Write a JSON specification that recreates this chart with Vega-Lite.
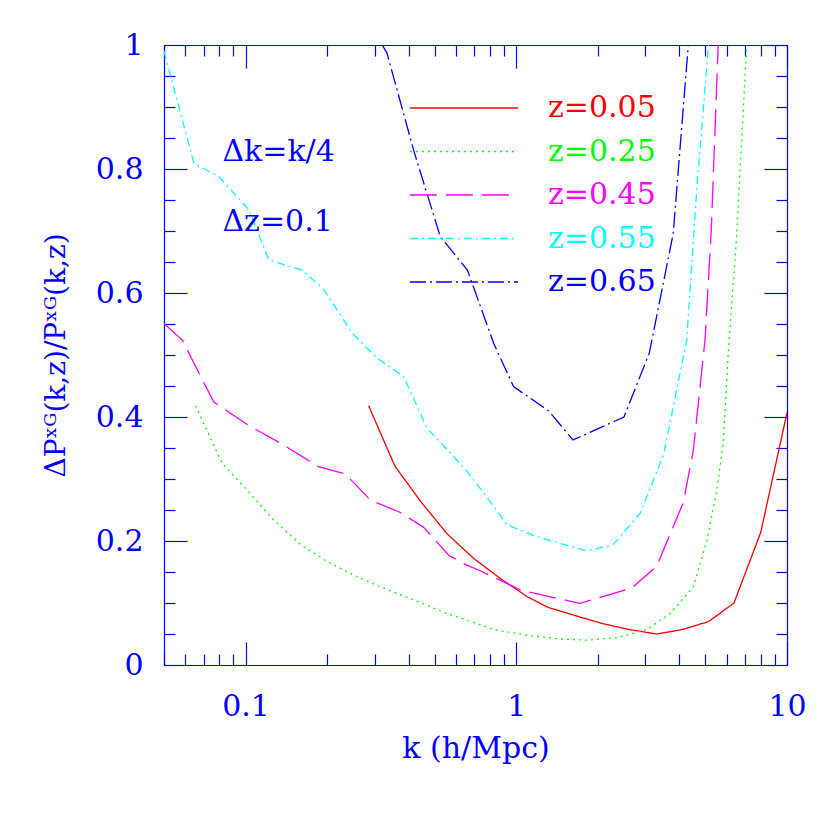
{
  "$schema": "https://vega.github.io/schema/vega-lite/v6.json",
  "width": 623,
  "height": 620,
  "autosize": "none",
  "padding": {"left": 164, "top": 45, "right": 43, "bottom": 165},
  "background": "white",
  "config": {"view": {"stroke": null}, "axis": {"grid": false}},
  "datasets": {
    "curves": [
      {"z": "z=0.05", "k": 0.285, "v": 0.418},
      {"z": "z=0.05", "k": 0.356, "v": 0.321},
      {"z": "z=0.05", "k": 0.445, "v": 0.263},
      {"z": "z=0.05", "k": 0.557, "v": 0.211},
      {"z": "z=0.05", "k": 0.696, "v": 0.172},
      {"z": "z=0.05", "k": 0.87, "v": 0.14},
      {"z": "z=0.05", "k": 1.1, "v": 0.11},
      {"z": "z=0.05", "k": 1.31, "v": 0.093},
      {"z": "z=0.05", "k": 1.7, "v": 0.078},
      {"z": "z=0.05", "k": 2.12, "v": 0.066},
      {"z": "z=0.05", "k": 2.63, "v": 0.057},
      {"z": "z=0.05", "k": 3.3, "v": 0.05},
      {"z": "z=0.05", "k": 4.09, "v": 0.057},
      {"z": "z=0.05", "k": 5.13, "v": 0.07},
      {"z": "z=0.05", "k": 6.37, "v": 0.1},
      {"z": "z=0.05", "k": 8.0, "v": 0.214},
      {"z": "z=0.05", "k": 10.0, "v": 0.407},

      {"z": "z=0.25", "k": 0.0654, "v": 0.418},
      {"z": "z=0.25", "k": 0.082, "v": 0.325},
      {"z": "z=0.25", "k": 0.1015, "v": 0.282},
      {"z": "z=0.25", "k": 0.127, "v": 0.234},
      {"z": "z=0.25", "k": 0.16, "v": 0.194},
      {"z": "z=0.25", "k": 0.2, "v": 0.167},
      {"z": "z=0.25", "k": 0.251, "v": 0.145},
      {"z": "z=0.25", "k": 0.315, "v": 0.126},
      {"z": "z=0.25", "k": 0.418, "v": 0.105},
      {"z": "z=0.25", "k": 0.555, "v": 0.083},
      {"z": "z=0.25", "k": 0.716, "v": 0.067},
      {"z": "z=0.25", "k": 0.825, "v": 0.057},
      {"z": "z=0.25", "k": 1.095, "v": 0.048},
      {"z": "z=0.25", "k": 1.45, "v": 0.042},
      {"z": "z=0.25", "k": 1.82, "v": 0.04},
      {"z": "z=0.25", "k": 2.35, "v": 0.044},
      {"z": "z=0.25", "k": 3.03, "v": 0.057},
      {"z": "z=0.25", "k": 3.7, "v": 0.083},
      {"z": "z=0.25", "k": 4.51, "v": 0.126},
      {"z": "z=0.25", "k": 5.05, "v": 0.2},
      {"z": "z=0.25", "k": 5.5, "v": 0.28},
      {"z": "z=0.25", "k": 5.82, "v": 0.36},
      {"z": "z=0.25", "k": 6.06, "v": 0.5},
      {"z": "z=0.25", "k": 6.5, "v": 0.685},
      {"z": "z=0.25", "k": 7.1, "v": 1.0},

      {"z": "z=0.45", "k": 0.05, "v": 0.551},
      {"z": "z=0.45", "k": 0.0584, "v": 0.524},
      {"z": "z=0.45", "k": 0.0764, "v": 0.424},
      {"z": "z=0.45", "k": 0.103, "v": 0.386},
      {"z": "z=0.45", "k": 0.138, "v": 0.355},
      {"z": "z=0.45", "k": 0.186, "v": 0.32},
      {"z": "z=0.45", "k": 0.234, "v": 0.308},
      {"z": "z=0.45", "k": 0.289, "v": 0.266},
      {"z": "z=0.45", "k": 0.373, "v": 0.246},
      {"z": "z=0.45", "k": 0.455, "v": 0.222},
      {"z": "z=0.45", "k": 0.563, "v": 0.177},
      {"z": "z=0.45", "k": 0.65, "v": 0.162},
      {"z": "z=0.45", "k": 0.736, "v": 0.152},
      {"z": "z=0.45", "k": 1.05, "v": 0.12},
      {"z": "z=0.45", "k": 1.72, "v": 0.0995},
      {"z": "z=0.45", "k": 2.67, "v": 0.124},
      {"z": "z=0.45", "k": 3.3, "v": 0.159},
      {"z": "z=0.45", "k": 4.14, "v": 0.262},
      {"z": "z=0.45", "k": 4.51, "v": 0.347},
      {"z": "z=0.45", "k": 4.98, "v": 0.524},
      {"z": "z=0.45", "k": 5.25, "v": 0.7},
      {"z": "z=0.45", "k": 5.57, "v": 1.0},

      {"z": "z=0.55", "k": 0.05, "v": 0.99},
      {"z": "z=0.55", "k": 0.0645, "v": 0.809},
      {"z": "z=0.55", "k": 0.0796, "v": 0.788},
      {"z": "z=0.55", "k": 0.103, "v": 0.734},
      {"z": "z=0.55", "k": 0.122, "v": 0.653},
      {"z": "z=0.55", "k": 0.162, "v": 0.637},
      {"z": "z=0.55", "k": 0.195, "v": 0.605},
      {"z": "z=0.55", "k": 0.248, "v": 0.535},
      {"z": "z=0.55", "k": 0.306, "v": 0.495},
      {"z": "z=0.55", "k": 0.384, "v": 0.465},
      {"z": "z=0.55", "k": 0.468, "v": 0.382},
      {"z": "z=0.55", "k": 0.571, "v": 0.342},
      {"z": "z=0.55", "k": 0.65, "v": 0.315},
      {"z": "z=0.55", "k": 0.76, "v": 0.277},
      {"z": "z=0.55", "k": 0.924, "v": 0.226},
      {"z": "z=0.55", "k": 1.19, "v": 0.207},
      {"z": "z=0.55", "k": 1.82, "v": 0.184},
      {"z": "z=0.55", "k": 2.28, "v": 0.194},
      {"z": "z=0.55", "k": 2.87, "v": 0.245},
      {"z": "z=0.55", "k": 3.5, "v": 0.339},
      {"z": "z=0.55", "k": 4.26, "v": 0.524},
      {"z": "z=0.55", "k": 4.64, "v": 0.766},
      {"z": "z=0.55", "k": 5.13, "v": 1.0},

      {"z": "z=0.65", "k": 0.32, "v": 1.0},
      {"z": "z=0.65", "k": 0.333, "v": 0.987},
      {"z": "z=0.65", "k": 0.418, "v": 0.83},
      {"z": "z=0.65", "k": 0.524, "v": 0.691},
      {"z": "z=0.65", "k": 0.66, "v": 0.637},
      {"z": "z=0.65", "k": 0.825, "v": 0.519},
      {"z": "z=0.65", "k": 0.977, "v": 0.449},
      {"z": "z=0.65", "k": 1.316, "v": 0.41},
      {"z": "z=0.65", "k": 1.62, "v": 0.363},
      {"z": "z=0.65", "k": 2.5, "v": 0.4},
      {"z": "z=0.65", "k": 3.1, "v": 0.503},
      {"z": "z=0.65", "k": 3.8, "v": 0.696},
      {"z": "z=0.65", "k": 4.32, "v": 1.0}
    ],
    "notes": [
      {"k": 0.0822, "v": 0.827, "label": "Δk=k/4"},
      {"k": 0.0822, "v": 0.715, "label": "Δz=0.1"}
    ]
  },
  "layer": [
    {
      "data": {"name": "curves"},
      "mark": {"type": "line", "clip": true, "strokeWidth": 1.3},
      "encoding": {
        "x": {
          "field": "k", "type": "quantitative",
          "scale": {"type": "log", "domain": [0.05, 10]},
          "axis": {
            "orient": "bottom",
            "values": [0.05, 0.06, 0.07, 0.08, 0.09, 0.1, 0.2, 0.3, 0.4, 0.5, 0.6, 0.7, 0.8, 0.9, 1, 2, 3, 4, 5, 6, 7, 8, 9, 10],
            "tickSize": {"condition": {"test": "datum.value == 0.1 || datum.value == 1 || datum.value == 10", "value": -23}, "value": -11},
            "labelExpr": "(datum.value == 0.1 || datum.value == 1 || datum.value == 10) ? toString(datum.value) : ''",
            "labelFont": "DejaVu Serif", "labelFontSize": 30, "labelColor": "blue",
            "labelPadding": 49, "labelFlush": false, "labelOverlap": false, "labelBound": false,
            "tickColor": "blue", "domainColor": "blue", "tickWidth": 1.2, "domainWidth": 1.2,
            "title": "k (h/Mpc)", "titleFont": "DejaVu Serif", "titleFontSize": 30,
            "titleFontWeight": "normal", "titleColor": "blue", "titlePadding": 0
          }
        },
        "y": {
          "field": "v", "type": "quantitative",
          "scale": {"domain": [0, 1]},
          "axis": {
            "orient": "left",
            "values": [0, 0.05, 0.1, 0.15, 0.2, 0.25, 0.3, 0.35, 0.4, 0.45, 0.5, 0.55, 0.6, 0.65, 0.7, 0.75, 0.8, 0.85, 0.9, 0.95, 1],
            "tickSize": {"condition": {"test": "abs(datum.value * 5 - round(datum.value * 5)) < 0.001", "value": -23}, "value": -11},
            "labelExpr": "abs(datum.value * 5 - round(datum.value * 5)) < 0.001 ? toString(datum.value) : ''",
            "labelFont": "DejaVu Serif", "labelFontSize": 30, "labelColor": "blue",
            "labelPadding": 44, "labelFlush": false, "labelOverlap": false, "labelBound": false,
            "tickColor": "blue", "domainColor": "blue", "tickWidth": 1.2, "domainWidth": 1.2,
            "title": "ΔPˣᴳ(k,z)/Pˣᴳ(k,z)", "titleFont": "DejaVu Serif", "titleFontSize": 28,
            "titleFontWeight": "normal", "titleColor": "blue", "titlePadding": 25
          }
        },
        "color": {
          "field": "z", "type": "nominal",
          "scale": {"domain": ["z=0.05", "z=0.25", "z=0.45", "z=0.55", "z=0.65"], "range": ["#ff0000", "#00ff00", "#ff00ff", "#00ffff", "#0000ff"]},
          "legend": {
            "orient": "none", "legendX": 245, "legendY": 48, "title": null,
            "symbolType": "stroke", "symbolSize": 11700, "symbolStrokeWidth": 1.3,
            "labelFont": "DejaVu Serif", "labelFontSize": 30, "labelOffset": 29, "labelLimit": 300,
            "clipHeight": 30, "rowPadding": 13.5, "padding": 0,
            "encode": {"labels": {"update": {"fill": {"signal": "scale('color', datum.value)"}}}}
          }
        },
        "strokeDash": {
          "field": "z", "type": "nominal",
          "scale": {"domain": ["z=0.05", "z=0.25", "z=0.45", "z=0.55", "z=0.65"], "range": [[1, 0], [2, 4], [27, 9], [8, 4, 2, 4], [16, 4, 2, 4]]}
        }
      }
    },
    {
      "data": {"name": "notes"},
      "mark": {"type": "text", "align": "left", "baseline": "middle", "font": "DejaVu Serif", "fontSize": 30, "color": "blue"},
      "encoding": {
        "x": {
          "field": "k", "type": "quantitative",
          "scale": {"type": "log", "domain": [0.05, 10]},
          "axis": {
            "orient": "top",
            "values": [0.05, 0.06, 0.07, 0.08, 0.09, 0.1, 0.2, 0.3, 0.4, 0.5, 0.6, 0.7, 0.8, 0.9, 1, 2, 3, 4, 5, 6, 7, 8, 9, 10],
            "tickSize": {"condition": {"test": "datum.value == 0.1 || datum.value == 1 || datum.value == 10", "value": -23}, "value": -11},
            "labels": false, "title": null,
            "tickColor": "blue", "domainColor": "blue", "tickWidth": 1.2, "domainWidth": 1.2
          }
        },
        "y": {
          "field": "v", "type": "quantitative",
          "scale": {"domain": [0, 1]},
          "axis": {
            "orient": "right",
            "values": [0, 0.05, 0.1, 0.15, 0.2, 0.25, 0.3, 0.35, 0.4, 0.45, 0.5, 0.55, 0.6, 0.65, 0.7, 0.75, 0.8, 0.85, 0.9, 0.95, 1],
            "tickSize": {"condition": {"test": "abs(datum.value * 5 - round(datum.value * 5)) < 0.001", "value": -23}, "value": -11},
            "labels": false, "title": null,
            "tickColor": "blue", "domainColor": "blue", "tickWidth": 1.2, "domainWidth": 1.2
          }
        },
        "text": {"field": "label", "type": "nominal"}
      }
    }
  ],
  "resolve": {"axis": {"x": "independent", "y": "independent"}}
}
